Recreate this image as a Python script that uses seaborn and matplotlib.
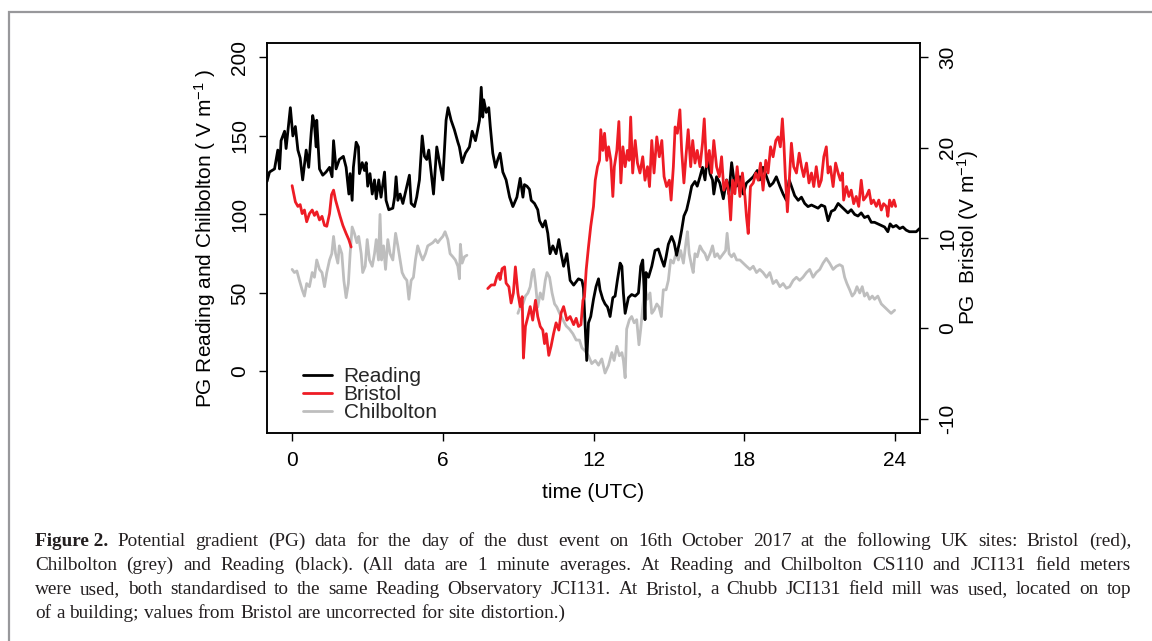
import matplotlib
matplotlib.use("Agg")
import matplotlib.pyplot as plt
import seaborn as sns

# ---------------- data ----------------
# Reading (black, left axis), time in hours UTC
reading_t = [-1.0, -0.9, -0.7, -0.57, -0.5, -0.44, -0.3, -0.24, -0.07, 0.03, 0.13, 0.23, 0.32, 0.42, 0.56, 0.66,
             0.76, 0.82, 0.89, 0.96, 0.98, 1.09, 1.22, 1.35, 1.49, 1.59, 1.65, 1.75, 1.88, 2.04, 2.15, 2.26, 2.31,
             2.39, 2.44, 2.55, 2.64, 2.68, 2.79, 2.88, 2.95, 3.01, 3.1, 3.19, 3.28, 3.35, 3.45, 3.54, 3.68, 3.74,
             3.85, 4.01, 4.08, 4.14, 4.21, 4.3, 4.41, 4.54, 4.67, 4.74, 4.87, 4.96, 5.07, 5.18, 5.27, 5.36, 5.44,
             5.54, 5.63, 5.76, 5.87, 6.0, 6.13, 6.21, 6.33, 6.46, 6.6, 6.66, 6.77, 6.9, 7.06, 7.17, 7.3, 7.39, 7.46,
             7.53, 7.59, 7.63, 7.73, 7.83, 7.89, 7.99, 8.1, 8.19, 8.28, 8.39, 8.52, 8.66, 8.79, 8.95, 9.08, 9.19,
             9.25, 9.35, 9.45, 9.52, 9.65, 9.78, 9.85, 9.98, 10.08, 10.18, 10.27, 10.38, 10.51, 10.62, 10.71,
             10.81, 10.94, 11.07, 11.21, 11.4, 11.54, 11.6, 11.67, 11.73, 11.8, 11.89, 12.0, 12.1, 12.2, 12.26,
             12.37, 12.46, 12.56, 12.66, 12.77, 12.86, 12.95, 13.06, 13.13, 13.19, 13.26, 13.39, 13.52, 13.66,
             13.79, 13.88, 13.96, 14.01, 14.05, 14.09, 14.19, 14.32, 14.45, 14.58, 14.72, 14.81, 14.89, 14.98,
             15.11, 15.21, 15.31, 15.42, 15.51, 15.6, 15.71, 15.81, 15.91, 16.04, 16.13, 16.24, 16.34, 16.44,
             16.53, 16.64, 16.74, 16.79, 16.9, 17.03, 17.17, 17.3, 17.39, 17.5, 17.59, 17.7, 17.83, 17.96, 18.09,
             18.23, 18.36, 18.52, 18.62, 18.75, 18.89, 19.02, 19.15, 19.28, 19.42, 19.55, 19.68, 19.79, 19.88,
             20.01, 20.15, 20.28, 20.41, 20.54, 20.68, 20.81, 20.94, 21.07, 21.21, 21.34, 21.47, 21.6, 21.74,
             21.87, 22.0, 22.13, 22.26, 22.4, 22.53, 22.66, 22.79, 22.93, 23.06, 23.19, 23.32, 23.46, 23.59,
             23.72, 23.81, 23.92, 24.05, 24.19, 24.32, 24.45, 24.58, 24.72, 24.85, 24.98]
reading_v = [121, 127, 129, 141, 129, 147, 153, 142, 168, 150, 156, 141, 136, 122, 141, 130,
             152, 163, 157, 143, 160, 129, 125, 127, 130, 124, 147, 129, 135, 137, 130, 113, 126,
             109, 130, 146, 143, 126, 133, 128, 133, 118, 126, 113, 122, 110, 122, 111, 127, 109,
             103, 104, 111, 124, 109, 113, 107, 116, 125, 107, 105, 111, 122, 150, 137, 135, 141,
             126, 113, 143, 133, 122, 160, 168, 160, 154, 146, 143, 133, 139, 143, 153, 147, 154, 160,
             181, 162, 173, 165, 168, 156, 139, 130, 135, 139, 127, 122, 111, 105, 111, 123, 111,
             119, 118, 116, 109, 107, 103, 96, 92, 96, 88, 75, 80, 75, 84, 75,
             67, 75, 58, 55, 59, 58, 53, 29, 7, 31, 35, 46, 54, 59, 52,
             46, 43, 41, 35, 47, 48, 58, 69, 67, 50, 37, 47, 49, 48,
             50, 67, 71, 54, 33, 63, 60, 67, 77, 78, 71, 67, 73, 81,
             86, 82, 74, 82, 90, 99, 103, 110, 118, 121, 118, 124, 130, 122,
             137, 126, 122, 113, 124, 120, 110, 122, 113, 133, 122, 118, 124, 113, 120,
             122, 124, 128, 122, 130, 124, 118, 120, 124, 118, 113, 109, 122, 118,
             112, 109, 111, 107, 105, 106, 105, 104, 106, 105, 96, 102, 103, 107,
             105, 103, 101, 103, 100, 99, 101, 98, 99, 95, 95, 94, 93, 92,
             89, 94, 92, 93, 91, 92, 90, 89, 89, 89, 91]

# Bristol (red, right axis) - two recorded stretches
bristol_t1 = [0.0, 0.05, 0.13, 0.23, 0.32, 0.4, 0.49, 0.58, 0.69, 0.8, 0.89, 0.98, 1.09, 1.19, 1.29, 1.38,
              1.49, 1.57, 1.65, 1.73, 1.82, 1.91, 2.02, 2.15, 2.26, 2.35]
bristol_v1 = [15.8, 15.1, 14.0, 13.5, 13.7, 12.7, 13.1, 11.8, 12.7, 13.1, 12.5, 12.9, 12.0, 12.4, 11.4, 11.3,
              12.7, 14.8, 15.3, 14.2, 13.3, 12.4, 11.4, 10.5, 9.8, 9.0]
bristol_t2 = [7.79, 7.93, 8.06, 8.15, 8.23, 8.28, 8.36, 8.46, 8.52, 8.63, 8.72, 8.81, 8.89, 8.99, 9.08, 9.16,
              9.21, 9.29, 9.39, 9.48, 9.58, 9.69, 9.78, 9.88, 9.98, 10.05, 10.12, 10.22, 10.31, 10.41, 10.51,
              10.62, 10.71,
              10.81, 10.94, 11.07, 11.21, 11.31, 11.4, 11.5, 11.58, 11.64, 11.71,
              11.8, 11.89, 12.0, 12.07, 12.16, 12.24, 12.29, 12.37, 12.44, 12.53,
              12.6, 12.69, 12.77, 12.83, 12.93, 13.01, 13.09, 13.17, 13.26, 13.35,
              13.42, 13.48, 13.56, 13.66, 13.75, 13.85, 13.96, 14.05, 14.15, 14.23,
              14.32, 14.41, 14.52, 14.62, 14.72, 14.81, 14.91, 15.02, 15.09, 15.18,
              15.25, 15.34, 15.44, 15.51, 15.6, 15.68, 15.77, 15.87, 15.95, 16.04,
              16.13, 16.24, 16.34, 16.41, 16.5, 16.61, 16.7, 16.79, 16.9, 17.01,
              17.1, 17.19, 17.3, 17.39, 17.46, 17.54, 17.63, 17.72, 17.83, 17.93,
              18.03, 18.09, 18.16, 18.25, 18.36, 18.46, 18.56, 18.65, 18.75, 18.86,
              18.95, 19.05, 19.15, 19.26, 19.35, 19.44, 19.52, 19.58, 19.64, 19.72,
              19.79, 19.88, 19.97, 20.08, 20.19, 20.28, 20.37, 20.48, 20.58, 20.68,
              20.77, 20.87, 20.98, 21.07, 21.17, 21.27, 21.34, 21.43, 21.54, 21.64,
              21.74, 21.83, 21.91, 21.96, 22.07, 22.17, 22.26, 22.36, 22.46, 22.56,
              22.66, 22.75, 22.86, 22.97, 23.06, 23.15, 23.26, 23.36, 23.46, 23.55,
              23.66, 23.72, 23.79, 23.88, 23.96, 24.03]
bristol_v2 = [4.4, 4.8, 4.8, 5.7, 6.1, 5.4, 6.6, 6.8, 5.0, 4.6, 2.8, 3.9, 6.8, 3.9, 2.4, 3.5,
              -3.3, 0.2, 1.3, 2.4, 0.9, 3.1, 1.3, 0.2, -0.2, -1.7, -0.6, -3.0, -2.0, -0.6, 0.6,
              -0.2, 1.7,
              2.4, 0.9, 1.3, 0.4, 1.1, 0.2, 0.4, 3.1, 3.5, 6.5,
              9.0, 11.3, 13.5, 16.4, 17.9, 18.6, 22.0, 19.7, 21.6, 18.6,
              20.1, 18.6, 14.6, 17.9, 19.7, 22.9, 16.1, 20.1, 17.9, 19.7,
              18.6, 23.4, 17.2, 20.8, 18.3, 17.2, 19.0, 16.4, 17.9, 15.7,
              20.8, 17.2, 21.2, 19.0, 20.8, 16.8, 15.7, 16.4, 14.2, 17.9,
              22.3, 21.6, 24.2, 19.7, 16.1, 19.0, 22.0, 17.9, 20.8, 18.3,
              19.7, 17.9, 20.5, 23.2, 17.9, 19.7, 17.2, 20.8, 17.9, 16.8,
              19.0, 15.3, 16.4, 14.9, 12.0, 16.4, 14.9, 17.9, 14.6, 17.2,
              14.6, 12.4, 10.5, 15.7, 16.1, 17.2, 16.4, 18.3, 15.3, 18.6,
              17.2, 20.1, 19.0, 20.8, 21.2, 20.1, 23.2, 20.5, 16.8, 12.9,
              16.1, 20.5, 17.9, 17.2, 19.4, 17.9, 16.8, 18.3, 16.1, 17.2,
              15.7, 17.9, 15.7, 16.4, 19.0, 20.1, 17.2, 17.9, 15.7, 18.3,
              17.2, 16.4, 17.2, 14.2, 15.7, 14.6, 15.3, 13.8, 14.6, 13.5,
              16.4, 14.2, 14.6, 15.3, 13.8, 14.2, 13.5, 14.2, 13.1, 13.8,
              13.5, 12.4, 14.2, 13.5, 14.2, 13.5]

# Chilbolton (grey, left axis) - two recorded stretches
chil_t1 = [0.0, 0.09, 0.19, 0.29, 0.4, 0.49, 0.58, 0.69, 0.8, 0.89, 0.98, 1.09, 1.19, 1.29, 1.38, 1.49, 1.58,
           1.65, 1.73, 1.82, 1.88, 1.98, 2.06, 2.15, 2.24, 2.31, 2.39, 2.48, 2.58, 2.65, 2.75, 2.81, 2.91,
           2.99, 3.08, 3.19, 3.28, 3.35, 3.44, 3.5, 3.56, 3.64, 3.72, 3.81, 3.9, 4.01, 4.12, 4.21, 4.3, 4.38,
           4.47, 4.57, 4.65, 4.74, 4.83, 4.91, 5.0, 5.1, 5.2, 5.31, 5.4, 5.5, 5.6, 5.71, 5.8, 5.89, 6.0, 6.09,
           6.2, 6.29, 6.4, 6.5, 6.6, 6.66, 6.7, 6.77, 6.86, 6.96]
chil_v1 = [65, 63, 64, 58, 52, 48, 56, 54, 63, 60, 71, 65, 63, 54, 63, 71, 75,
           86, 75, 69, 80, 75, 58, 47, 56, 75, 92, 88, 82, 86, 75, 63, 67,
           84, 71, 67, 75, 84, 71, 100, 71, 80, 65, 84, 75, 71, 88, 80, 71, 63,
           60, 58, 46, 58, 60, 71, 80, 75, 71, 75, 80, 81, 82, 84, 82, 84, 86, 89,
           84, 75, 73, 71, 67, 59, 81, 69, 73, 74]
chil_t2 = [8.99, 9.08, 9.19, 9.29, 9.39, 9.48, 9.56, 9.62, 9.69, 9.78, 9.88, 9.98, 10.08, 10.15, 10.25, 10.35,
           10.45, 10.54, 10.65, 10.78, 10.91, 11.04, 11.18, 11.31, 11.44,
           11.54, 11.67, 11.8, 11.93, 12.07, 12.2, 12.33, 12.46, 12.6, 12.73,
           12.82, 12.93, 13.03, 13.13, 13.19, 13.26, 13.32, 13.43, 13.52, 13.62,
           13.72, 13.81, 13.88, 13.96, 14.05, 14.15, 14.25, 14.32, 14.41, 14.52,
           14.61, 14.7, 14.78, 14.89, 14.98, 15.07, 15.18, 15.28, 15.38, 15.47,
           15.58, 15.68, 15.74, 15.81, 15.91, 15.97, 16.04, 16.13, 16.24, 16.34,
           16.44, 16.53, 16.64, 16.74, 16.83, 16.93, 17.03, 17.17, 17.26, 17.32,
           17.4, 17.5, 17.59, 17.7, 17.83, 17.96, 18.09, 18.23, 18.36, 18.49,
           18.62, 18.75, 18.89, 19.02, 19.15, 19.28, 19.42, 19.55, 19.68, 19.81,
           19.95, 20.08, 20.21, 20.34, 20.48, 20.61, 20.74, 20.87, 21.01, 21.14,
           21.27, 21.4, 21.54, 21.67, 21.8, 21.91, 22.0, 22.09, 22.2, 22.3,
           22.4, 22.49, 22.6, 22.7, 22.79, 22.89, 22.99, 23.1, 23.19, 23.32,
           23.46, 23.59, 23.72, 23.85, 23.99]
chil_v2 = [37, 41, 43, 48, 50, 54, 63, 65, 56, 41, 50, 46, 58, 63, 60, 50,
           43, 41, 37, 33, 29, 27, 24, 20, 20,
           15, 13, 10, 5, 7, 4, 8, -1, 4, 12,
           7, 16, 10, 12, 7, -4, 27, 33, 35, 31,
           33, 17, 27, 41, 54, 46, 50, 37, 39, 43,
           41, 35, 52, 52, 58, 71, 69, 75, 71, 77,
           69, 82, 89, 75, 67, 63, 75, 73, 80, 77,
           75, 71, 75, 80, 73, 75, 72, 75, 77, 88,
           75, 73, 75, 71, 71, 69, 67, 65, 67, 63,
           65, 63, 60, 63, 56, 58, 54, 56, 53, 54,
           58, 60, 58, 60, 63, 65, 60, 63, 65, 69,
           72, 69, 65, 67, 68, 67, 60, 56, 52, 48,
           50, 54, 50, 54, 48, 50, 46, 48, 46, 48,
           43, 41, 39, 37, 39]

series_labels = ["Reading", "Bristol", "Chilbolton"]
x_ticks = [0, 6, 12, 18, 24]
left_ticks = [0, 50, 100, 150, 200]
right_ticks = [-10, 0, 10, 20, 30]

caption_lines = [
    "Potential gradient (PG) data for the day of the dust event on 16th October 2017 at the following UK sites: Bristol (red),",
    "Chilbolton (grey) and Reading (black). (All data are 1 minute averages. At Reading and Chilbolton CS110 and JCI131 field meters",
    "were used, both standardised to the same Reading Observatory JCI131. At Bristol, a Chubb JCI131 field mill was used, located on top",
    "of a building; values from Bristol are uncorrected for site distortion.)",
]

# ---------------- style ----------------
sns.set_theme(style="ticks")
plt.rcParams['font.family'] = ['Liberation Sans', 'DejaVu Sans']
plt.rcParams['mathtext.fontset'] = 'custom'
plt.rcParams['mathtext.rm'] = 'Liberation Sans'
plt.rcParams['mathtext.it'] = 'Liberation Sans:italic'
plt.rcParams['axes.unicode_minus'] = False

W, H = 1152, 641
fig = plt.figure(figsize=(W / 100, H / 100), dpi=100)
fig.patch.set_facecolor('white')

ax = fig.add_axes([267 / W, 1 - 433 / H, 653 / W, 390 / H])
ax2 = ax.twinx()

BLACK, RED, GREY = "black", "#EE1C25", "#BEBEBE"
LW = 2.0

sns.lineplot(x=chil_t1, y=chil_v1, ax=ax, color=GREY, lw=LW, estimator=None, sort=False)
sns.lineplot(x=chil_t2, y=chil_v2, ax=ax, color=GREY, lw=LW, estimator=None, sort=False)
h_chil = ax.lines[-1]
sns.lineplot(x=reading_t, y=reading_v, ax=ax, color=BLACK, lw=LW, estimator=None, sort=False)
h_read = ax.lines[-1]
sns.lineplot(x=bristol_t1, y=bristol_v1, ax=ax2, color=RED, lw=LW, estimator=None, sort=False)
sns.lineplot(x=bristol_t2, y=bristol_v2, ax=ax2, color=RED, lw=LW, estimator=None, sort=False)
h_bris = ax2.lines[-1]

ax.set_xlim(-1, 25)
ax.set_ylim(-39.2, 209.2)
ax2.set_ylim(-11.6, 31.6)

ax.set_xticks(x_ticks)
ax.set_xticklabels([str(v) for v in x_ticks])
ax.set_yticks(left_ticks)
ax.set_yticklabels([str(v) for v in left_ticks])
ax2.set_yticks(right_ticks)
ax2.set_yticklabels([str(v) for v in right_ticks])

FS = 15
for a in (ax, ax2):
    a.tick_params(axis='both', direction='out', length=6, width=1.0, color='black',
                  labelsize=FS, labelcolor='black', pad=7)
    for s in a.spines.values():
        s.set_color('black')
        s.set_linewidth(1.1)
for lab in ax.get_yticklabels():
    lab.set_rotation(90)
    lab.set_va('center')
for lab in ax2.get_yticklabels():
    lab.set_rotation(90)
    lab.set_va('center')

ax.set_xlabel("time (UTC)", fontsize=FS, color='black')
ax.xaxis.set_label_coords(0.5, -(493 - 433) / 390)
ax.xaxis.label.set_va('center')
ax.set_ylabel("PG Reading and Chilbolton ( V m$^{-1}$ )", fontsize=FS, color='black')
ax.yaxis.set_label_coords((205 - 267) / 653, 0.5)
ax.yaxis.label.set_va('center')
ax2.set_ylabel("PG  Bristol (V m$^{-1}$)", fontsize=FS, color='black', rotation=90)
ax2.yaxis.set_label_coords((968 - 267) / 653, 0.5)
ax2.yaxis.label.set_va('center')
ax2.yaxis.label.set_ha('center')

leg = ax2.legend([h_read, h_bris, h_chil], series_labels, loc='upper left',
                 bbox_to_anchor=((303 - 267) / 653, (433 - 367) / 390),
                 frameon=False, fontsize=FS, handlelength=1.4, handletextpad=0.55,
                 labelspacing=-0.04, borderpad=0, borderaxespad=0)

# ---------------- caption (justified) ----------------
fig.canvas.draw()
renderer = fig.canvas.get_renderer()
SERIF = ['Liberation Serif', 'DejaVu Serif']


def measure(s, fs, weight='normal'):
    t = fig.text(0, 0, s, fontsize=fs, family=SERIF, weight=weight)
    w = t.get_window_extent(renderer).width
    t.remove()
    return w


x0, x1 = 35, 1131
probe = measure(caption_lines[3], 12)
cfs = 12 * (566 - x0) / probe
space_w = measure("x x", cfs) - measure("xx", cfs)
baselines = [546, 570, 594, 618]

for i, line in enumerate(caption_lines):
    tokens = [(w, 'normal') for w in line.split(' ')]
    if i == 0:
        tokens = [("Figure 2.", 'bold')] + tokens
    widths = [measure(w, cfs, wt) for w, wt in tokens]
    justify = i < 3
    if justify:
        gap = (x1 - x0 - sum(widths)) / (len(tokens) - 1)
    else:
        gap = space_w
    x = x0
    for (w, wt), wd in zip(tokens, widths):
        fig.text(x / W, 1 - baselines[i] / H, w, fontsize=cfs, family=SERIF, weight=wt,
                 va='baseline', ha='left', color='#231f20')
        x += wd + gap

# outer grey frame
frame = plt.Rectangle((8.5 / W, -0.2), 1.5, 1.2 - 12 / H, transform=fig.transFigure,
                      fill=False, edgecolor='#98989b', linewidth=1.6, clip_on=False)
fig.add_artist(frame)

fig.savefig("out.png", dpi=100)
